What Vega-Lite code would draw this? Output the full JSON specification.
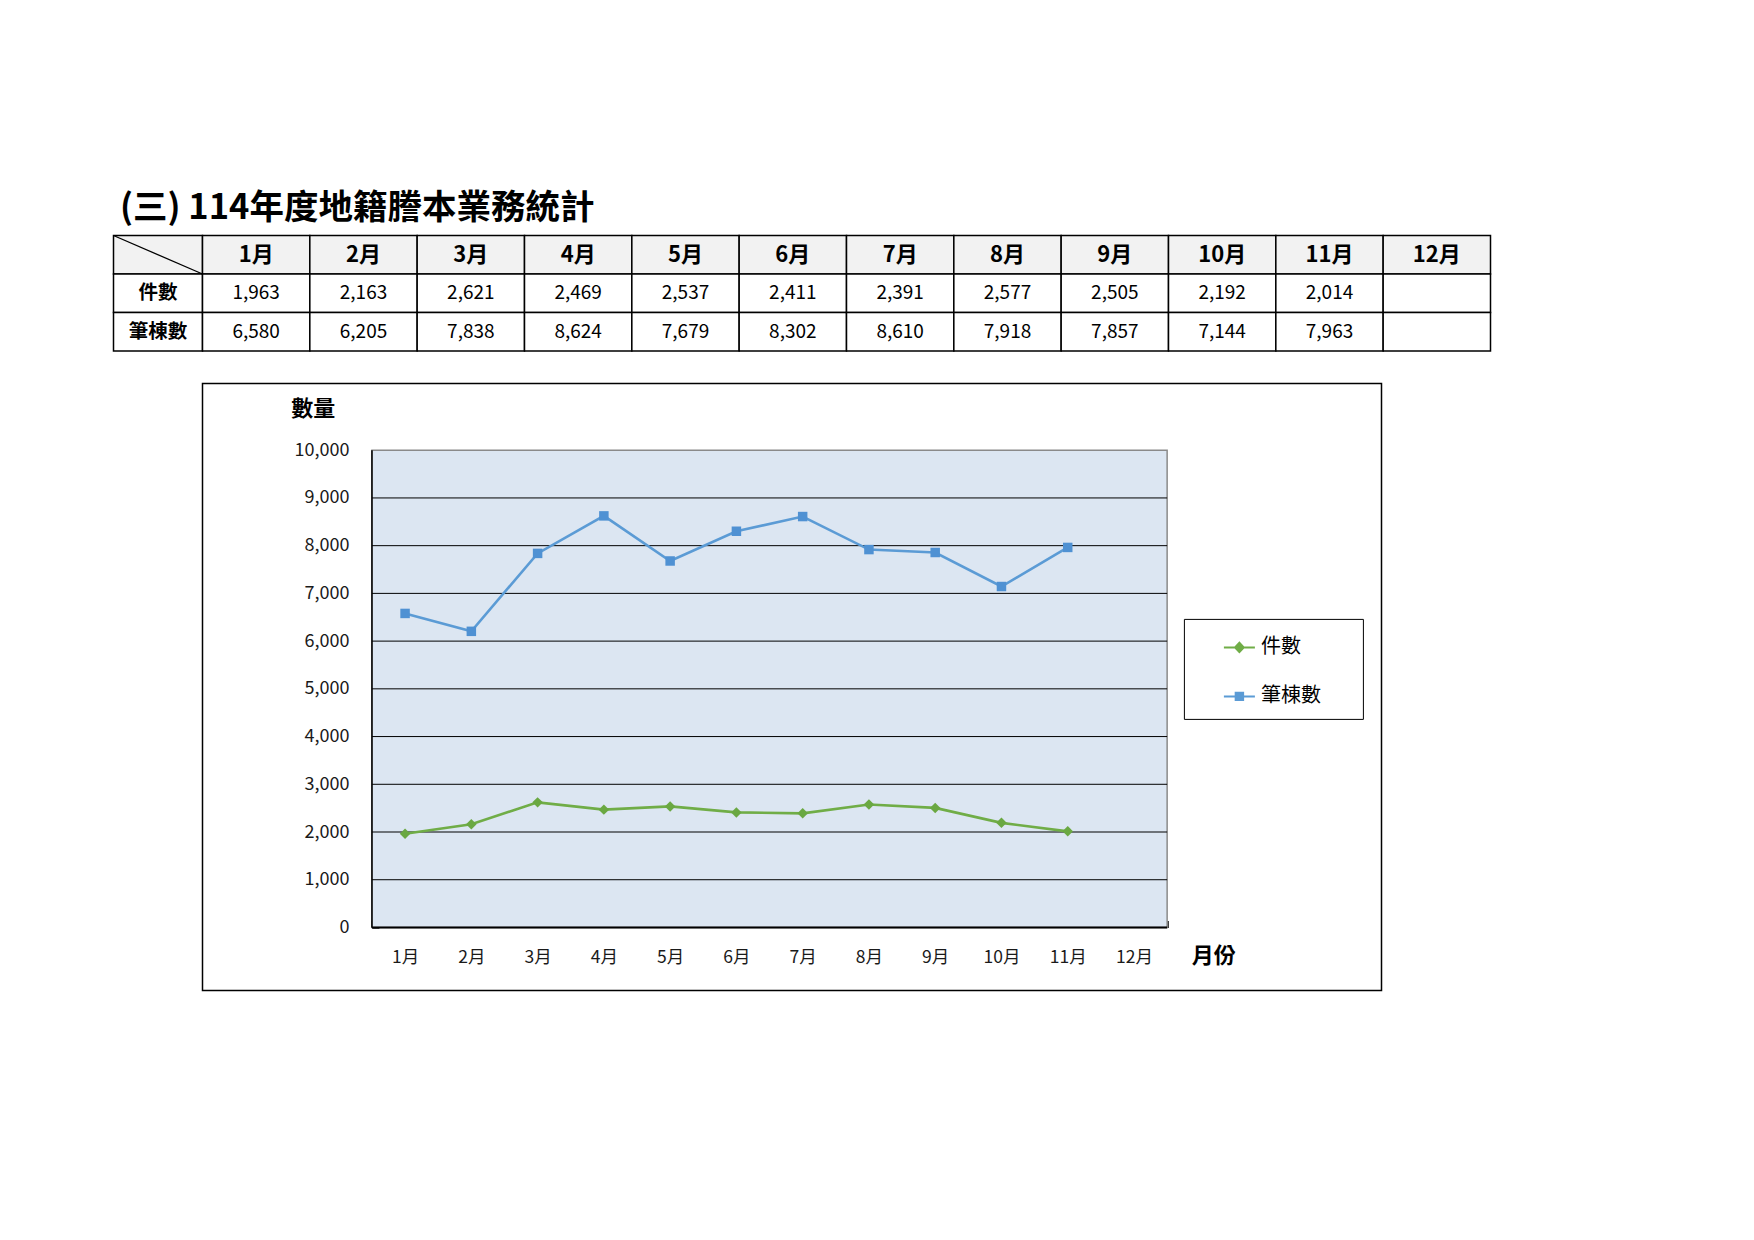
{
  "$schema": "https://vega.github.io/schema/vega-lite/v6.json",
  "background": "white",
  "padding": {"left": 110.5, "top": 190.5, "right": 10, "bottom": 10},
  "title": {"text": "(三) 114年度地籍謄本業務統計", "anchor": "start", "fontSize": 34.5, "fontWeight": "bold", "font": "Noto Sans CJK TC", "color": "black", "offset": 6, "dx": 9},
  "datasets": {
    "monthly": [
      {"月": 1, "月份": "1月", "件數": 1963, "筆棟數": 6580},
      {"月": 2, "月份": "2月", "件數": 2163, "筆棟數": 6205},
      {"月": 3, "月份": "3月", "件數": 2621, "筆棟數": 7838},
      {"月": 4, "月份": "4月", "件數": 2469, "筆棟數": 8624},
      {"月": 5, "月份": "5月", "件數": 2537, "筆棟數": 7679},
      {"月": 6, "月份": "6月", "件數": 2411, "筆棟數": 8302},
      {"月": 7, "月份": "7月", "件數": 2391, "筆棟數": 8610},
      {"月": 8, "月份": "8月", "件數": 2577, "筆棟數": 7918},
      {"月": 9, "月份": "9月", "件數": 2505, "筆棟數": 7857},
      {"月": 10, "月份": "10月", "件數": 2192, "筆棟數": 7144},
      {"月": 11, "月份": "11月", "件數": 2014, "筆棟數": 7963},
      {"月": 12, "月份": "12月", "件數": null, "筆棟數": null}
    ],
    "grid": [
      {"刻度": 1000}, {"刻度": 2000}, {"刻度": 3000}, {"刻度": 4000}, {"刻度": 5000},
      {"刻度": 6000}, {"刻度": 7000}, {"刻度": 8000}, {"刻度": 9000}
    ]
  },
  "spacing": 0,
  "bounds": "flush",
  "hconcat": [
    {
      "width": 89,
      "height": 115.5,
      "data": {"values": [{"項目": "header"}, {"項目": "件數"}, {"項目": "筆棟數"}]},
      "encoding": {
        "y": {"field": "項目", "type": "nominal", "sort": null, "scale": {"domain": ["header", "件數", "筆棟數"], "paddingInner": 0, "paddingOuter": 0}, "axis": null}
      },
      "layer": [
        {
          "mark": {"type": "rect", "stroke": "black", "strokeWidth": 1.5},
          "encoding": {"fill": {"condition": {"test": "datum['項目'] === 'header'", "value": "#F2F2F2"}, "value": "white"}}
        },
        {
          "transform": [{"filter": "datum['項目'] !== 'header'"}],
          "mark": {"type": "text", "fontSize": 19.5, "fontWeight": "bold", "color": "black"},
          "encoding": {"text": {"field": "項目", "type": "nominal"}}
        },
        {
          "transform": [{"filter": "datum['項目'] === 'header'"}],
          "mark": {"type": "point", "shape": "M-1,-0.4326L1,0.4326", "size": 7921, "stroke": "black", "strokeWidth": 1.3, "filled": false, "opacity": 1}
        }
      ]
    },
    {
      "spacing": 32,
      "bounds": "flush",
      "vconcat": [
        {
          "width": 1288,
          "height": 115.5,
          "data": {"name": "monthly"},
          "encoding": {
            "x": {"field": "月份", "type": "nominal", "sort": null, "scale": {"paddingInner": 0, "paddingOuter": 0}, "axis": null}
          },
          "layer": [
            {
              "mark": {"type": "rect", "fill": "#F2F2F2", "stroke": "black", "strokeWidth": 1.5},
              "encoding": {"y": {"datum": "header", "type": "nominal", "scale": {"domain": ["header", "件數", "筆棟數"], "paddingInner": 0, "paddingOuter": 0}, "axis": null}}
            },
            {
              "transform": [{"fold": ["件數", "筆棟數"], "as": ["項目", "數值"]}],
              "mark": {"type": "rect", "fill": "white", "stroke": "black", "strokeWidth": 1.5},
              "encoding": {"y": {"field": "項目", "type": "nominal", "scale": {"domain": ["header", "件數", "筆棟數"], "paddingInner": 0, "paddingOuter": 0}, "axis": null}}
            },
            {
              "mark": {"type": "text", "fontSize": 22, "fontWeight": "bold", "color": "black"},
              "encoding": {
                "y": {"datum": "header", "type": "nominal", "scale": {"domain": ["header", "件數", "筆棟數"], "paddingInner": 0, "paddingOuter": 0}, "axis": null},
                "text": {"field": "月份", "type": "nominal"}
              }
            },
            {
              "transform": [{"fold": ["件數", "筆棟數"], "as": ["項目", "數值"]}, {"filter": "isValid(datum['數值'])"}],
              "mark": {"type": "text", "fontSize": 19, "color": "black"},
              "encoding": {
                "y": {"field": "項目", "type": "nominal", "scale": {"domain": ["header", "件數", "筆棟數"], "paddingInner": 0, "paddingOuter": 0}, "axis": null},
                "text": {"field": "數值", "type": "quantitative", "format": ","}
              }
            }
          ]
        },
        {
          "width": 1179,
          "height": 607,
          "view": {"stroke": "black", "strokeWidth": 1.5},
          "resolve": {"legend": {"fill": "independent", "stroke": "independent", "shape": "independent"}},
          "layer": [
            {
              "data": {"values": [{}]},
              "mark": {"type": "rect", "fill": "#DCE6F2", "stroke": "#8A8A8A", "strokeWidth": 1.5},
              "encoding": {
                "x": {
                  "datum": 0.5, "type": "quantitative",
                  "scale": {"domain": [-2.057, 15.735], "nice": false, "zero": false},
                  "axis": {
                    "orient": "bottom", "offset": -63, "domain": false, "grid": false,
                    "values": [0.5, 1.5, 2.5, 3.5, 4.5, 5.5, 6.5, 7.5, 8.5, 9.5, 10.5, 11.5, 12.5],
                    "ticks": true, "tickSize": -7, "tickColor": "black", "tickWidth": 1.5,
                    "labelExpr": "datum.value < 12 ? (datum.value + 0.5) + '月' : ''",
                    "labelOffset": 33.1, "labelPadding": 37, "labelBaseline": "middle",
                    "labelFontSize": 17.5, "labelColor": "#1a1a1a", "labelOverlap": false, "labelFlush": false, "labelBound": false,
                    "title": "月份", "titleX": 1010.7, "titleY": 27.5, "titleFontSize": 22, "titleFontWeight": "bold",
                    "titleBaseline": "middle", "titleAlign": "center", "titleColor": "black"
                  }
                },
                "x2": {"datum": 12.5},
                "y": {
                  "datum": 0, "type": "quantitative",
                  "scale": {"domain": [-1321, 11398], "nice": false, "zero": false},
                  "axis": {
                    "orient": "left", "offset": -169.4, "domain": false, "grid": false,
                    "values": [0, 1000, 2000, 3000, 4000, 5000, 6000, 7000, 8000, 9000, 10000],
                    "format": ",d",
                    "ticks": true, "tickSize": -7, "tickColor": "black", "tickWidth": 1.5,
                    "labelPadding": 30, "labelFontSize": 18, "labelColor": "#1a1a1a",
                    "title": "數量", "titleAngle": 0, "titleX": -59.2, "titleY": 24.5,
                    "titleAlign": "center", "titleBaseline": "middle", "titleFontSize": 22, "titleFontWeight": "bold", "titleColor": "black"
                  }
                },
                "y2": {"datum": 10000}
              }
            },
            {
              "data": {"name": "grid"},
              "mark": {"type": "rule", "color": "black", "strokeWidth": 1},
              "encoding": {
                "y": {"field": "刻度", "type": "quantitative", "scale": {"domain": [-1321, 11398], "nice": false, "zero": false}},
                "x": {"datum": 0.5, "type": "quantitative", "scale": {"domain": [-2.057, 15.735], "nice": false, "zero": false}},
                "x2": {"datum": 12.5}
              }
            },
            {
              "data": {"values": [{}]},
              "mark": {"type": "rule", "color": "black", "strokeWidth": 1.5},
              "encoding": {
                "x": {"datum": 0.5, "type": "quantitative", "scale": {"domain": [-2.057, 15.735], "nice": false, "zero": false}},
                "y": {"datum": 0, "type": "quantitative", "scale": {"domain": [-1321, 11398], "nice": false, "zero": false}},
                "y2": {"datum": 10000}
              }
            },
            {
              "data": {"values": [{}]},
              "mark": {"type": "rule", "color": "black", "strokeWidth": 2},
              "encoding": {
                "y": {"datum": 0, "type": "quantitative", "scale": {"domain": [-1321, 11398], "nice": false, "zero": false}},
                "x": {"datum": 0.5, "type": "quantitative", "scale": {"domain": [-2.057, 15.735], "nice": false, "zero": false}},
                "x2": {"datum": 12.5}
              }
            },
            {
              "data": {"name": "monthly"},
              "transform": [{"fold": ["件數", "筆棟數"], "as": ["系列", "數量"]}, {"filter": "isValid(datum['數量'])"}],
              "mark": {"type": "line", "strokeWidth": 2.6},
              "encoding": {
                "x": {"field": "月", "type": "quantitative", "scale": {"domain": [-2.057, 15.735], "nice": false, "zero": false}},
                "y": {"field": "數量", "type": "quantitative", "scale": {"domain": [-1321, 11398], "nice": false, "zero": false}},
                "color": {"field": "系列", "type": "nominal", "scale": {"domain": ["件數", "筆棟數"], "range": ["#70AD47", "#5B9BD5"]}, "legend": null}
              }
            },
            {
              "data": {"name": "monthly"},
              "transform": [{"filter": "isValid(datum['件數'])"}],
              "mark": {"type": "point", "shape": "diamond", "filled": true, "size": 110, "color": "#6AA842", "opacity": 1},
              "encoding": {
                "x": {"field": "月", "type": "quantitative", "scale": {"domain": [-2.057, 15.735], "nice": false, "zero": false}},
                "y": {"field": "件數", "type": "quantitative", "scale": {"domain": [-1321, 11398], "nice": false, "zero": false}}
              }
            },
            {
              "data": {"name": "monthly"},
              "transform": [{"filter": "isValid(datum['筆棟數'])"}],
              "mark": {"type": "point", "shape": "square", "filled": true, "size": 90, "color": "#4F91D3", "opacity": 1},
              "encoding": {
                "x": {"field": "月", "type": "quantitative", "scale": {"domain": [-2.057, 15.735], "nice": false, "zero": false}},
                "y": {"field": "筆棟數", "type": "quantitative", "scale": {"domain": [-1321, 11398], "nice": false, "zero": false}}
              }
            },
            {
              "data": {"name": "monthly"},
              "transform": [{"fold": ["件數", "筆棟數"], "as": ["系列", "數量"]}, {"filter": "isValid(datum['數量'])"}],
              "mark": {"type": "point", "filled": true, "size": 0, "opacity": 1},
              "encoding": {
                "x": {"field": "月", "type": "quantitative", "scale": {"domain": [-2.057, 15.735], "nice": false, "zero": false}},
                "y": {"field": "數量", "type": "quantitative", "scale": {"domain": [-1321, 11398], "nice": false, "zero": false}},
                "fill": {"field": "系列", "type": "nominal", "scale": {"domain": ["件數", "筆棟數"], "range": ["#70AD47", "#5B9BD5"]},
                  "legend": {"title": null, "orient": "none", "legendX": 981.4, "legendY": 235.4, "direction": "vertical", "strokeColor": "black", "fillColor": "white", "padding": 12, "symbolOffset": 27, "symbolSize": 961, "symbolStrokeWidth": 2, "symbolOpacity": 1, "labelFontSize": 20, "labelOffset": 5, "rowPadding": 22, "labelColor": "black", "labelExpr": "datum.label + '\u2002\u2002\u2002\u200b'"}},
                "stroke": {"field": "系列", "type": "nominal", "scale": {"domain": ["件數", "筆棟數"], "range": ["#70AD47", "#5B9BD5"]},
                  "legend": {"title": null, "orient": "none", "legendX": 981.4, "legendY": 235.4, "direction": "vertical", "strokeColor": "black", "fillColor": "white", "padding": 12, "symbolOffset": 27, "symbolSize": 961, "symbolStrokeWidth": 2, "symbolOpacity": 1, "labelFontSize": 20, "labelOffset": 5, "rowPadding": 22, "labelColor": "black", "labelExpr": "datum.label + '\u2002\u2002\u2002\u200b'"}},
                "shape": {"field": "系列", "type": "nominal", "scale": {"domain": ["件數", "筆棟數"], "range": ["M-1,0L1,0M-0.28,0L0,-0.3L0.28,0L0,0.3Z", "M-1,0L1,0M-0.24,-0.24L0.24,-0.24L0.24,0.24L-0.24,0.24Z"]},
                  "legend": {"title": null, "orient": "none", "legendX": 981.4, "legendY": 235.4, "direction": "vertical", "strokeColor": "black", "fillColor": "white", "padding": 12, "symbolOffset": 27, "symbolSize": 961, "symbolStrokeWidth": 2, "symbolOpacity": 1, "labelFontSize": 20, "labelOffset": 5, "rowPadding": 22, "labelColor": "black", "labelExpr": "datum.label + '\u2002\u2002\u2002\u200b'"}}
              }
            }
          ]
        }
      ]
    }
  ],
  "config": {
    "font": "Noto Sans CJK TC",
    "view": {"stroke": null},
    "text": {"font": "Noto Sans CJK TC"},
    "axis": {"labelFont": "Noto Sans CJK TC", "titleFont": "Noto Sans CJK TC"},
    "legend": {"labelFont": "Noto Sans CJK TC"}
  }
}
